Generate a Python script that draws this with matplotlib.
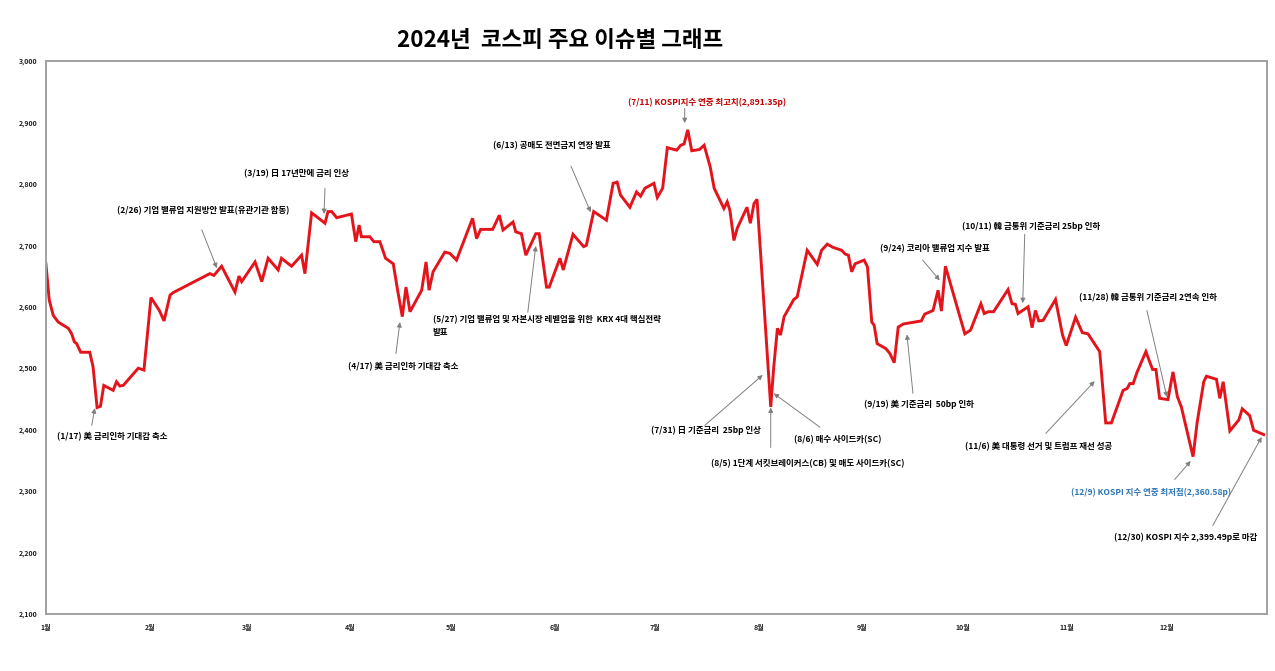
import matplotlib
matplotlib.use("Agg")
import matplotlib.pyplot as plt
import numpy as np

plt.rcParams['font.family'] = ['Noto Sans CJK KR', 'DejaVu Sans']

# KOSPI 2024 (day = days since Jan 1)
day = [0.0, 1.0, 2.2, 3.7, 6.7, 7.7, 8.5, 9.2, 10.4, 13.1, 14.1, 15.3, 16.3, 17.3,
       20.1, 21.1, 22.1, 23.1, 27.6, 29.3, 31.4, 33.9, 35.3, 37.1, 38.0, 49.0,
       50.2, 52.5, 56.5, 57.7, 58.5, 62.5, 64.5, 66.4, 69.4, 70.4, 73.4, 76.4,
       77.4, 79.4, 83.4, 84.3, 85.4, 86.9, 91.3, 92.6, 93.6, 94.3, 96.8, 98.0,
       99.8, 101.5, 103.8, 105.1, 106.5, 107.6, 108.8, 112.3, 113.6, 114.5,
       115.7, 119.2, 120.7, 122.7, 127.5, 128.7, 129.9, 133.5, 135.5, 136.6,
       139.6, 140.4, 142.1, 143.4, 146.4, 147.4, 149.6, 150.4, 153.6, 154.6,
       157.5, 160.7, 161.5, 163.7, 167.5, 169.5, 170.7, 171.7, 174.5, 176.5,
       177.7, 179.0, 181.7, 182.7, 184.3, 185.7, 188.5, 189.7, 190.7, 191.8,
       193.0, 195.3, 196.7, 198.5, 199.7, 201.2, 202.6, 203.6, 204.4, 205.6,
       206.6, 209.5, 210.5, 211.6, 212.5, 216.6, 217.5, 218.6, 219.5, 220.6,
       223.5, 224.5, 227.5, 230.5, 231.8, 233.5, 235.1, 237.8, 238.8, 239.8,
       240.8, 241.8, 244.5, 245.5, 246.8, 247.5, 248.4, 251.0, 252.2, 253.5,
       254.7, 256.2, 261.6, 262.6, 265.1, 266.6, 267.6, 268.8, 274.6, 276.3,
       279.4, 280.4, 281.6, 283.2, 287.5, 288.7, 289.7, 290.5, 293.5, 294.7,
       295.7, 296.7, 298.0, 301.7, 303.8, 304.9, 307.7, 309.7, 311.4, 314.9,
       316.7, 318.4, 321.9, 323.1, 323.9, 324.9, 326.1, 328.7, 330.7, 331.7,
       332.8, 335.3, 336.8, 338.1, 339.3, 342.8, 344.0, 346.0, 346.8, 349.8,
       350.8, 351.8, 353.8, 356.5, 357.5, 359.7, 360.9, 363.9]
kospi = [2670, 2611, 2586, 2575, 2565, 2556, 2543, 2540, 2526, 2526, 2502, 2436, 2438, 2472,
         2464, 2478, 2471, 2472, 2500, 2497, 2615, 2594, 2577, 2619, 2623, 2654,
         2651, 2666, 2624, 2650, 2641, 2673, 2641, 2679, 2660, 2679, 2666, 2684,
         2654, 2753, 2736, 2755, 2755, 2745, 2751, 2706, 2733, 2714, 2714, 2706,
         2706, 2679, 2670, 2627, 2584, 2632, 2592, 2627, 2673, 2627,
         2657, 2689, 2687, 2676, 2744, 2711, 2726, 2726, 2749, 2725,
         2738, 2722, 2719, 2684, 2719, 2719, 2632, 2632, 2679, 2660,
         2718, 2698, 2700, 2755, 2741, 2801, 2803, 2782, 2762, 2787,
         2780, 2793, 2801, 2778, 2793, 2859, 2855, 2863, 2865, 2888,
         2854, 2856, 2863, 2828, 2793, 2776, 2760, 2771, 2757, 2708,
         2728, 2762, 2736, 2768, 2775, 2437, 2502, 2565, 2554, 2584,
         2612, 2616, 2692, 2669, 2692, 2702, 2697, 2692, 2686, 2684,
         2657, 2670, 2676, 2665, 2575, 2570, 2540, 2532, 2524, 2509,
         2567, 2572, 2577, 2588, 2594, 2627, 2593, 2666, 2556, 2562,
         2605, 2589, 2592, 2592, 2628, 2605, 2604, 2589, 2600, 2566,
         2594, 2577, 2578, 2612, 2554, 2537, 2583, 2558, 2556, 2527,
         2411, 2411, 2464, 2467, 2475, 2475, 2494, 2527, 2498, 2498,
         2451, 2449, 2494, 2454, 2437, 2356, 2411, 2478, 2487, 2482,
         2451, 2478, 2398, 2416, 2434, 2423, 2399, 2392]

month_start = [0, 31, 60, 91, 121, 152, 182, 213, 244, 274, 305, 335]
month_labels = ['1월', '2월', '3월', '4월', '5월', '6월', '7월', '8월', '9월', '10월', '11월', '12월']
y_ticks = [2100, 2200, 2300, 2400, 2500, 2600, 2700, 2800, 2900, 3000]

# annotations: text, text position, arrow tail, arrow head, colour
notes = [
    ("(1/17) 美 금리인하 기대감 축소", (3.3, 2388), (13.7, 2407), (14.6, 2435), 'black'),
    ("(2/26) 기업 밸류업 지원방안 발표(유관기관 합동)", (21.2, 2756), (46.6, 2725), (51.1, 2663), 'black'),
    ("(3/19) 日 17년만에 금리 인상", (59.2, 2816), (83.4, 2793), (83.1, 2751), 'black'),
    ("(4/17) 美 금리인하 기대감 축소", (90.2, 2502), (104.6, 2524), (105.8, 2575), 'black'),
    ("(5/27) 기업 밸류업 및 자본시장 레벨업을 위한  KRX 4대 핵심전략\n발표", (115.6, 2568), (144.0, 2591), (146.4, 2699), 'black'),
    ("(6/13) 공매도 전면금지 연장 발표", (133.6, 2862), (156.9, 2829), (162.8, 2754), 'black'),
    ("(7/11) KOSPI지수 연중 최고치(2,891.35p)", (173.9, 2932), (190.9, 2923), (190.9, 2899), '#c00000'),
    ("(7/31) 日 기준금리  25bp 인상", (180.8, 2399), (196.9, 2407), (214.2, 2489), 'black'),
    ("(8/5) 1단계 서킷브레이커스(CB) 및 매도 사이드카(SC)", (198.7, 2345), (216.6, 2371), (216.6, 2436), 'black'),
    ("(8/6) 매수 사이드카(SC)", (223.5, 2384), (231.3, 2404), (217.5, 2459), 'black'),
    ("(9/19) 美 기준금리  50bp 인하", (244.4, 2441), (259.1, 2459), (257.3, 2555), 'black'),
    ("(9/24) 코리아 밸류업 지수 발표", (249.2, 2694), (262.0, 2676), (267.1, 2643), 'black'),
    ("(10/11) 韓 금통위 기준금리 25bp 인하", (273.7, 2731), (292.5, 2718), (291.9, 2606), 'black'),
    ("(11/6) 美 대통령 선거 및 트럼프 재선 성공", (274.6, 2373), (298.8, 2394), (313.4, 2479), 'black'),
    ("(11/28) 韓 금통위 기준금리 2연속 인하", (308.7, 2614), (329.0, 2594), (335.0, 2453), 'black'),
    ("(12/9) KOSPI 지수 연중 최저점(2,360.58p)", (306.3, 2298), (337.3, 2319), (342.1, 2349), '#2e75b6'),
    ("(12/30) KOSPI 지수 2,399.49p로 마감", (319.1, 2225), (348.7, 2244), (363.3, 2388), 'black'),
]

fig = plt.figure(figsize=(12.75, 6.71), dpi=100)
ax = fig.add_axes([0.036, 0.085, 0.958, 0.824])

ax.plot(day, kospi, color='#e3141b', lw=2.1, solid_joinstyle='miter')

ax.set_xlim(0, 365)
ax.set_ylim(2100, 3000)
ax.set_xticks(month_start)
ax.set_xticklabels(month_labels)
ax.set_yticks(y_ticks)
ax.set_yticklabels([f"{v:,}" for v in y_ticks])
ax.tick_params(axis='both', length=0, labelsize=5, colors='#222222')
ax.tick_params(axis='y', pad=6)
ax.tick_params(axis='x', pad=7)
for lab in ax.get_xticklabels() + ax.get_yticklabels():
    lab.set_fontweight('bold')

for s in ax.spines.values():
    s.set_color('#a0a0a0')
    s.set_linewidth(1.4)

for txt, tpos, tail, head, col in notes:
    ax.text(tpos[0], tpos[1], txt, fontsize=6.1, fontweight='bold', color=col,
            ha='left', va='center', linespacing=1.5)
    ax.annotate('', xy=head, xytext=tail,
                arrowprops=dict(arrowstyle='-|>', color='#7f7f7f', lw=0.7,
                                mutation_scale=7, shrinkA=0, shrinkB=0))

fig.text(0.439, 0.94, "2024년  코스피 주요 이슈별 그래프", fontsize=16.2,
         fontweight='bold', ha='center', va='center')

fig.savefig("out.png", dpi=100, facecolor='white')
